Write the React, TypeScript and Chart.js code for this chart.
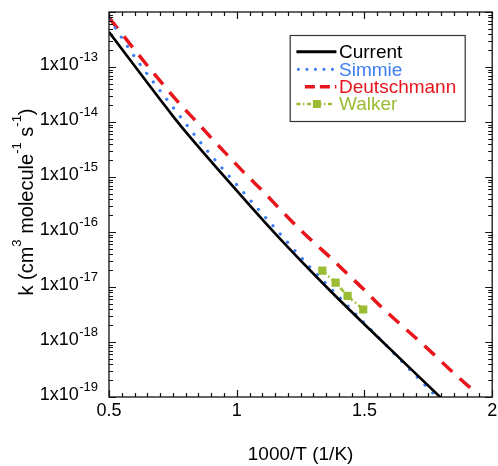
import React, { useEffect, useRef } from "react";
import { Chart, registerables } from "chart.js";

Chart.register(...registerables);

// ---- data ----
const currentX = [0.5, 0.751, 0.816, 1.031, 1.168, 1.363, 1.52, 1.8];
const currentK = [4.33e-13, 1.27e-14, 5.41e-15, 3.89e-16, 7.67e-17, 8.81e-18, 1.7e-18, 9.6e-20];

const simmieX = [0.5, 0.614, 0.771, 0.875, 1.018, 1.168, 1.289, 1.354, 1.52, 1.647, 1.782, 1.8];
const simmieK = [7.5e-13, 1.25e-13, 1.4e-14, 3.41e-15, 5.81e-16, 9.46e-17, 2.24e-17, 1.1e-17, 1.77e-18, 4.39e-19, 1.01e-19, 8.3e-20];

const deutschX = [0.5, 0.561, 0.614, 0.67, 0.725, 0.783, 0.845, 0.908, 0.974, 1.036, 1.102, 1.175, 1.233, 1.298, 1.37, 1.435, 1.493, 1.565, 1.634, 1.702, 1.767, 1.832, 1.901, 1.925];
const deutschK = [7.94e-13, 3.48e-13, 1.71e-13, 8.17e-14, 4.06e-14, 1.99e-14, 9.84e-15, 4.69e-15, 2.23e-15, 1.11e-15, 5.53e-16, 2.44e-16, 1.3e-16, 6.67e-17, 3.32e-17, 1.7e-17, 9.46e-18, 4.39e-18, 2.24e-18, 1.17e-18, 6.22e-19, 3.24e-19, 1.66e-19, 1.35e-19];

const walkerX = [1.335, 1.387, 1.434, 1.495];
const walkerK = [1.98e-17, 1.2e-17, 6.89e-18, 3.9e-18];

const seriesNames = ["Current", "Simmie", "Deutschmann", "Walker"];
const seriesColors = ["#000000", "#3D7EF4", "#E8161C", "#9ABD33"];

const xMin = 0.5;
const xMax = 2;
const xMajorStep = 0.5;
const xMinorStep = 0.05;
const yMinExp = -19;
const yMaxExp = -12;
const yLabelExps = [-19, -18, -17, -16, -15, -14, -13];

const xTitle = "1000/T (1/K)";
const yTitleParts: [string, boolean][] = [
  ["k (cm", false],
  ["3", true],
  [" molecule", false],
  ["-1", true],
  [" s", false],
  ["-1", true],
  [")", false],
];

const FONT = '"Liberation Sans", Arial, Helvetica, sans-serif';

const dashes: number[][] = [[], [0.01, 11], [14, 10], [5, 3, 1.5, 3]];
const widths = [2.7, 3.2, 3.5, 2.5];

const framePlugin = {
  id: "frame",
  afterDraw(chart: any) {
    const { ctx, chartArea: a, scales } = chart;
    const xs = scales.x;
    const ys = scales.y;
    ctx.save();
    // frame
    ctx.strokeStyle = "#111";
    ctx.lineWidth = 1.3;
    ctx.setLineDash([]);
    ctx.strokeRect(a.left, a.top, a.right - a.left, a.bottom - a.top);

    // x ticks (inward, top and bottom)
    ctx.lineWidth = 1.2;
    const nx = Math.round((xMax - xMin) / xMinorStep);
    const perMajor = Math.round(xMajorStep / xMinorStep);
    for (let i = 0; i <= nx; i++) {
      const v = xMin + i * xMinorStep;
      const px = Math.round(xs.getPixelForValue(v)) + 0.5;
      const len = i % perMajor === 0 ? 7 : 4;
      ctx.beginPath();
      ctx.moveTo(px, a.bottom);
      ctx.lineTo(px, a.bottom - len);
      ctx.moveTo(px, a.top);
      ctx.lineTo(px, a.top + len);
      ctx.stroke();
    }
    // y ticks (inward, left and right)
    for (let e = yMinExp; e <= yMaxExp; e++) {
      for (let m = 1; m <= 9; m++) {
        if (e === yMaxExp && m > 1) break;
        const v = m * Math.pow(10, e);
        const py = Math.round(ys.getPixelForValue(v)) + 0.5;
        const len = m === 1 ? 7 : 4;
        ctx.beginPath();
        ctx.moveTo(a.left, py);
        ctx.lineTo(a.left + len, py);
        ctx.moveTo(a.right, py);
        ctx.lineTo(a.right - len, py);
        ctx.stroke();
      }
    }

    // y tick labels with superscripts
    ctx.fillStyle = "#000";
    ctx.textBaseline = "alphabetic";
    ctx.textAlign = "left";
    const baseFont = `18px ${FONT}`;
    const supFont = `13px ${FONT}`;
    for (const e of yLabelExps) {
      const py = ys.getPixelForValue(Math.pow(10, e));
      ctx.font = baseFont;
      const base = "1x10";
      const bw = ctx.measureText(base).width;
      ctx.font = supFont;
      const sup = String(e);
      const sw = ctx.measureText(sup).width;
      const right = a.left - 11;
      const x0 = right - sw - bw - 0.5;
      ctx.font = baseFont;
      ctx.fillText(base, x0, py + 3);
      ctx.font = supFont;
      ctx.fillText(sup, x0 + bw + 0.5, py - 6);
    }

    // y title (rotated, with superscripts)
    const tFont = `20px ${FONT}`;
    const tSup = `13px ${FONT}`;
    let total = 0;
    for (const [t, s] of yTitleParts) {
      ctx.font = s ? tSup : tFont;
      total += ctx.measureText(t).width;
    }
    ctx.save();
    ctx.translate(33, (a.top + a.bottom) / 2 - 2.5);
    ctx.rotate(-Math.PI / 2);
    let cx = -total / 2;
    for (const [t, s] of yTitleParts) {
      ctx.font = s ? tSup : tFont;
      ctx.fillText(t, cx, s ? -12 : 0);
      cx += ctx.measureText(t).width;
    }
    ctx.restore();

    // legend
    const lx = a.right - 202.5;
    const ly = a.top + 23;
    const lw = 175;
    const lh = 86;
    ctx.fillStyle = "#fff";
    ctx.fillRect(lx, ly, lw, lh);
    ctx.strokeStyle = "#333";
    ctx.lineWidth = 1.2;
    ctx.strokeRect(lx + 0.5, ly + 0.5, lw, lh);
    const rowY = [ly + 16.7, ly + 34.3, ly + 51.7, ly + 69];
    const sx0 = lx + 6.7;
    const sx1 = lx + 46.7;
    ctx.font = `19px ${FONT}`;
    ctx.textBaseline = "middle";
    for (let i = 0; i < seriesNames.length; i++) {
      const y = rowY[i];
      ctx.strokeStyle = seriesColors[i];
      ctx.lineWidth = i === 0 ? 3 : widths[i];
      ctx.beginPath();
      if (i === 0) {
        ctx.setLineDash([]);
        ctx.lineCap = "butt";
        ctx.moveTo(sx0, y);
        ctx.lineTo(sx1, y);
      } else if (i === 1) {
        ctx.setLineDash([0.01, 8.5]);
        ctx.lineCap = "round";
        ctx.moveTo(sx0 + 2, y);
        ctx.lineTo(sx1, y);
      } else if (i === 2) {
        ctx.setLineDash([10, 5]);
        ctx.lineCap = "butt";
        ctx.moveTo(sx0 + 8.5, y);
        ctx.lineTo(sx1, y);
      } else {
        ctx.setLineDash([4, 2.5, 1.5, 2.5]);
        ctx.lineCap = "butt";
        ctx.moveTo(sx0, y);
        ctx.lineTo(sx1 - 4, y);
      }
      ctx.stroke();
      if (i === 3) {
        ctx.fillStyle = seriesColors[i];
        ctx.fillRect(sx0 + 16.5, y - 4, 8, 8);
      }
      ctx.setLineDash([]);
      ctx.fillStyle = seriesColors[i];
      ctx.fillText(seriesNames[i], lx + 49.3, y + 1);
    }
    ctx.restore();
  },
};

export default function App() {
  const ref = useRef<HTMLCanvasElement>(null);
  useEffect(() => {
    const mk = (xv: number[], kv: number[]) => xv.map((x, i) => ({ x, y: kv[i] }));
    const sets = [
      mk(currentX, currentK),
      mk(simmieX, simmieK),
      mk(deutschX, deutschK),
      mk(walkerX, walkerK),
    ];
    const chart = new Chart(ref.current as HTMLCanvasElement, {
      type: "line",
      data: {
        datasets: sets.map((d, i) => ({
          label: seriesNames[i],
          data: d,
          borderColor: seriesColors[i],
          backgroundColor: seriesColors[i],
          borderWidth: widths[i],
          borderDash: dashes[i],
          borderCapStyle: i === 1 ? "round" : "butt",
          pointRadius: i === 3 ? 5.8 : 0,
          pointStyle: "rect",
          pointBorderWidth: 0,
          pointBackgroundColor: seriesColors[i],
          cubicInterpolationMode: i === 3 ? "default" : "monotone",
          fill: false,
          clip: 0,
        })) as any,
      },
      options: {
        animation: false,
        responsive: true,
        maintainAspectRatio: false,
        layout: { padding: { top: 12, right: 5.7, left: 0, bottom: 0 } },
        plugins: { legend: { display: false }, tooltip: { enabled: false } },
        events: [],
        scales: {
          x: {
            type: "linear",
            min: xMin,
            max: xMax,
            grid: { display: false, drawTicks: false },
            border: { display: false },
            ticks: {
              stepSize: xMajorStep,
              color: "#000",
              padding: 3,
              maxRotation: 0,
              font: { family: FONT, size: 18 },
              callback: (v: any) => String(v),
            },
            title: {
              display: true,
              text: xTitle,
              color: "#000",
              font: { family: FONT, size: 19 },
              padding: { top: 0, bottom: 0 },
            },
            afterFit: (s: any) => {
              s.height = 69;
              s.paddingLeft = 0;
              s.paddingRight = 0;
            },
          },
          y: {
            type: "logarithmic",
            min: Math.pow(10, yMinExp),
            max: Math.pow(10, yMaxExp),
            grid: { display: false, drawTicks: false },
            border: { display: false },
            ticks: { display: false },
            afterFit: (s: any) => {
              s.width = 109;
              s.paddingTop = 0;
              s.paddingBottom = 0;
            },
          },
        },
      },
      plugins: [framePlugin],
    });
    return () => chart.destroy();
  }, []);
  return (
    <div style={{ position: "fixed", left: 0, top: 0, width: 498, height: 466, background: "#fff" }}>
      <canvas ref={ref} />
    </div>
  );
}
